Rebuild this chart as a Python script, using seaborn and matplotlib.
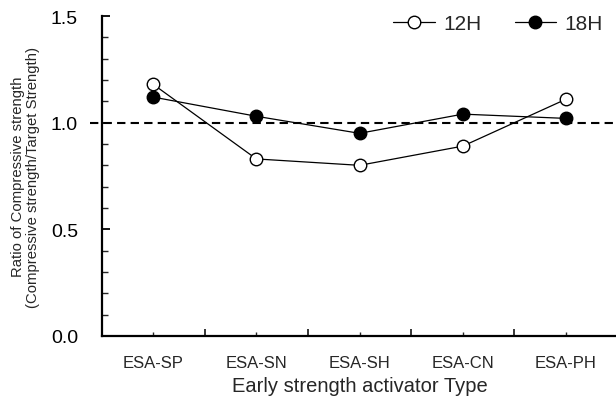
import matplotlib
matplotlib.use("Agg")
import matplotlib.pyplot as plt
import seaborn as sns
import pandas as pd
from matplotlib.ticker import MultipleLocator, FixedLocator, FormatStrFormatter

categories = ["ESA-SP", "ESA-SN", "ESA-SH", "ESA-CN", "ESA-PH"]
h12 = [1.18, 0.83, 0.80, 0.89, 1.11]
h18 = [1.12, 1.03, 0.95, 1.04, 1.02]
target = 1.0

sns.set_theme(style="ticks")
plt.rcParams["font.family"] = ["Liberation Sans", "DejaVu Sans"]

df = pd.DataFrame({
    "cat": categories * 2,
    "val": h12 + h18,
    "series": ["12H"] * 5 + ["18H"] * 5,
})

W, H = 616, 402
fig = plt.figure(figsize=(W / 100, H / 100), dpi=100)
left, right, bottom, top = 101.5, 617.6, 337, 17
ax = fig.add_axes([left / W, 1 - bottom / H, (right - left) / W, (bottom - top) / H])

styles = {"12H": "white", "18H": "black"}
for name, fc in styles.items():
    sub = df[df["series"] == name]
    sns.lineplot(data=sub, x="cat", y="val", ax=ax, color="black", lw=0.9,
                 marker="o", markersize=9, markerfacecolor=fc,
                 markeredgecolor="black", markeredgewidth=1.0, label=name,
                 sort=False, zorder=3)

ax.axhline(target, xmin=-0.022, xmax=1, color="black", lw=1.5,
           ls=(0, (4, 2.5)), clip_on=False, zorder=2)

ax.set_xlim(-0.5, len(categories) - 0.5)
ax.set_ylim(0, 1.5)
ax.yaxis.set_major_locator(MultipleLocator(0.5))
ax.yaxis.set_minor_locator(MultipleLocator(0.1))
ax.yaxis.set_major_formatter(FormatStrFormatter("%.1f"))

ax.xaxis.set_major_locator(FixedLocator([i + 0.5 for i in range(len(categories) - 1)]))
ax.set_xticks(range(len(categories)), labels=categories, minor=True)

ax.tick_params(axis="y", which="major", direction="in", length=6, width=1.3,
               labelsize=14, pad=17, colors="black")
ax.tick_params(axis="y", which="minor", direction="in", length=4, width=1.0)
ax.tick_params(axis="x", which="major", direction="in", length=5, width=1.3,
               labelbottom=False)
ax.tick_params(axis="x", which="minor", direction="in", length=3, width=1.0,
               labelsize=12, pad=14)

for s in ["top", "right"]:
    ax.spines[s].set_visible(False)
for s in ["left", "bottom"]:
    ax.spines[s].set_linewidth(1.6)
    ax.spines[s].set_color("black")

ax.set_xlabel("Early strength activator Type", fontsize=14.5, labelpad=4)
ax.set_ylabel("Ratio of Compressive strength\n(Compressive strength/Target Strength)",
              fontsize=10.7, labelpad=8, linespacing=1.1)

leg = ax.legend(loc="center right", ncol=2, frameon=False, fontsize=15,
                handlelength=2.0, columnspacing=1.6, handletextpad=0.4,
                borderaxespad=0, borderpad=0,
                bbox_to_anchor=((603 - left) / (right - left), (bottom - 25) / (bottom - top)))

fig.savefig("out.png", dpi=100)
